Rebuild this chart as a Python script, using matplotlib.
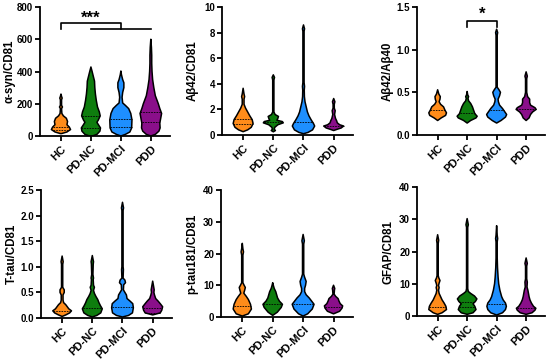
import numpy as np
import matplotlib
matplotlib.use("Agg")
import matplotlib.pyplot as plt

plt.rcParams['font.family'] = ['Liberation Sans', 'DejaVu Sans']

groups = ['HC', 'PD-NC', 'PD-MCI', 'PDD']
colors = ['#FF8C1A', '#0E7D0E', '#1E8FFF', '#8A0F8A']

# ---- violin profiles: levels (y values) and half-widths (category units) ----
asyn_levels = {
    'HC': [15, 25, 40, 55, 70, 90, 110, 125, 140, 170, 180, 190, 225, 235, 245, 260],
    'PD-NC': [0, 10, 30, 50, 70, 85, 100, 125, 150, 180, 220, 260, 300, 340, 370, 400, 428],
    'PD-MCI': [0, 10, 25, 50, 100, 140, 170, 190, 205, 240, 270, 300, 330, 350, 380, 403],
    'PDD': [0, 10, 30, 50, 80, 110, 140, 170, 200, 250, 300, 350, 400, 450, 500, 550, 600],
}
asyn_widths = {
    'HC': [0.02, 0.2, 0.32, 0.28, 0.2, 0.22, 0.18, 0.08, 0.03, 0.02, 0.05, 0.02, 0.02, 0.04, 0.02, 0.0],
    'PD-NC': [0.05, 0.2, 0.3, 0.32, 0.25, 0.2, 0.25, 0.31, 0.28, 0.22, 0.18, 0.15, 0.13, 0.12, 0.08, 0.04, 0.0],
    'PD-MCI': [0.0, 0.15, 0.3, 0.36, 0.37, 0.33, 0.26, 0.15, 0.06, 0.04, 0.06, 0.1, 0.1, 0.06, 0.02, 0.0],
    'PDD': [0.0, 0.15, 0.27, 0.31, 0.3, 0.33, 0.36, 0.3, 0.25, 0.15, 0.1, 0.06, 0.04, 0.03, 0.03, 0.02, 0.0],
}
asyn_lines = {'HC': [35, 55], 'PD-NC': [47, 124], 'PD-MCI': [58, 105], 'PDD': [89, 147]}

ab42_levels = {
    'HC': [0.26, 0.4, 0.6, 0.9, 1.2, 1.5, 1.8, 2.1, 2.4, 2.8, 3.0, 3.2, 3.65],
    'PD-NC': [0.25, 0.35, 0.45, 0.6, 0.8, 0.95, 1.05, 1.15, 1.3, 1.45, 1.6, 1.8, 4.3, 4.5, 4.7],
    'PD-MCI': [0.1, 0.2, 0.4, 0.7, 0.9, 1.2, 1.5, 1.8, 2.2, 2.6, 3.0, 3.5, 3.8, 4.1, 8.1, 8.3, 8.6],
    'PDD': [0.35, 0.45, 0.55, 0.7, 0.8, 0.95, 1.1, 1.3, 1.6, 1.9, 2.1, 2.4, 2.6, 2.85],
}
ab42_widths = {
    'HC': [0.0, 0.15, 0.27, 0.33, 0.3, 0.22, 0.15, 0.08, 0.03, 0.03, 0.05, 0.03, 0.0],
    'PD-NC': [0.0, 0.07, 0.03, 0.05, 0.15, 0.33, 0.3, 0.12, 0.15, 0.17, 0.06, 0.02, 0.02, 0.04, 0.0],
    'PD-MCI': [0.0, 0.15, 0.3, 0.37, 0.33, 0.25, 0.18, 0.13, 0.09, 0.05, 0.03, 0.025, 0.035, 0.02, 0.02, 0.035, 0.0],
    'PDD': [0.0, 0.12, 0.25, 0.33, 0.2, 0.12, 0.1, 0.06, 0.03, 0.05, 0.02, 0.02, 0.04, 0.0],
}
ab42_lines = {'HC': [0.85, 1.25], 'PD-NC': [1.05], 'PD-MCI': [1.0], 'PDD': [0.7]}

ratio_levels = {
    'HC': [0.17, 0.2, 0.23, 0.26, 0.29, 0.33, 0.36, 0.39, 0.42, 0.45, 0.48, 0.53],
    'PD-NC': [0.14, 0.17, 0.2, 0.22, 0.25, 0.29, 0.33, 0.37, 0.4, 0.43, 0.45, 0.47, 0.51],
    'PD-MCI': [0.14, 0.17, 0.21, 0.24, 0.27, 0.31, 0.35, 0.39, 0.42, 0.46, 0.5, 0.53, 0.56, 1.17, 1.2, 1.24],
    'PDD': [0.17, 0.2, 0.24, 0.27, 0.3, 0.32, 0.35, 0.38, 0.42, 0.45, 0.5, 0.66, 0.69, 0.74],
}
ratio_widths = {
    'HC': [0.0, 0.12, 0.27, 0.3, 0.25, 0.2, 0.1, 0.05, 0.08, 0.09, 0.04, 0.0],
    'PD-NC': [0.0, 0.12, 0.3, 0.34, 0.26, 0.22, 0.18, 0.12, 0.05, 0.03, 0.05, 0.02, 0.0],
    'PD-MCI': [0.0, 0.15, 0.3, 0.34, 0.28, 0.2, 0.1, 0.06, 0.05, 0.1, 0.13, 0.08, 0.02, 0.02, 0.035, 0.0],
    'PDD': [0.0, 0.1, 0.15, 0.22, 0.34, 0.3, 0.15, 0.12, 0.12, 0.05, 0.02, 0.02, 0.04, 0.0],
}
ratio_lines = {'HC': [0.29], 'PD-NC': [0.26], 'PD-MCI': [0.29], 'PDD': [0.3]}

ttau_levels = {
    'HC': [0.03, 0.06, 0.1, 0.14, 0.18, 0.22, 0.26, 0.3, 0.35, 0.45, 0.5, 0.55, 0.6, 1.05, 1.1, 1.21],
    'PD-NC': [0.02, 0.05, 0.1, 0.18, 0.24, 0.3, 0.36, 0.42, 0.48, 0.54, 0.6, 0.64, 0.75, 0.78, 0.85, 1.05, 1.1, 1.22],
    'PD-MCI': [0.02, 0.05, 0.1, 0.2, 0.28, 0.33, 0.38, 0.45, 0.5, 0.55, 0.65, 0.69, 0.74, 0.78, 0.95, 1.0, 2.1, 2.15, 2.26],
    'PDD': [0.06, 0.1, 0.15, 0.22, 0.28, 0.33, 0.38, 0.45, 0.5, 0.55, 0.62, 0.72],
}
ttau_widths = {
    'HC': [0.0, 0.12, 0.25, 0.31, 0.22, 0.17, 0.12, 0.05, 0.03, 0.03, 0.07, 0.07, 0.02, 0.02, 0.035, 0.0],
    'PD-NC': [0.0, 0.15, 0.28, 0.33, 0.27, 0.22, 0.18, 0.12, 0.07, 0.04, 0.07, 0.04, 0.03, 0.04, 0.02, 0.03, 0.04, 0.0],
    'PD-MCI': [0.0, 0.2, 0.33, 0.36, 0.34, 0.25, 0.15, 0.13, 0.08, 0.03, 0.04, 0.1, 0.08, 0.02, 0.03, 0.02, 0.02, 0.035, 0.0],
    'PDD': [0.0, 0.25, 0.3, 0.33, 0.25, 0.18, 0.1, 0.06, 0.04, 0.05, 0.03, 0.0],
}
ttau_lines = {'HC': [0.14], 'PD-NC': [0.19], 'PD-MCI': [0.22], 'PDD': [0.1, 0.2]}

ptau_levels = {
    'HC': [0.3, 1, 2.5, 4, 5.5, 6.5, 7.5, 8.5, 9.3, 10, 10.8, 19.5, 20.5, 21.5, 23.2],
    'PD-NC': [0.5, 1.5, 3, 4, 5, 6, 7, 8, 9, 10, 10.8],
    'PD-MCI': [0.3, 1, 2.5, 4, 5, 6, 7, 8, 9, 10, 11.2, 12.5, 13.5, 23, 24, 26],
    'PDD': [1.0, 1.8, 2.8, 3.5, 4.2, 5, 5.8, 6.5, 7.2, 8.5, 9, 10],
}
ptau_widths = {
    'HC': [0.0, 0.2, 0.3, 0.27, 0.2, 0.13, 0.05, 0.08, 0.1, 0.06, 0.02, 0.02, 0.04, 0.02, 0.0],
    'PD-NC': [0.0, 0.15, 0.28, 0.32, 0.22, 0.16, 0.13, 0.1, 0.05, 0.02, 0.0],
    'PD-MCI': [0.0, 0.15, 0.3, 0.36, 0.28, 0.2, 0.1, 0.05, 0.05, 0.08, 0.1, 0.05, 0.02, 0.02, 0.04, 0.0],
    'PDD': [0.0, 0.2, 0.28, 0.3, 0.22, 0.18, 0.15, 0.07, 0.02, 0.03, 0.04, 0.0],
}
ptau_lines = {'HC': [3.5], 'PD-NC': [4.0], 'PD-MCI': [4.2], 'PDD': [3.2]}

gfap_levels = {
    'HC': [0.5, 1, 2, 3, 4, 5, 6, 7, 8, 8.8, 9.5, 10.2, 11, 11.8, 12.5, 22.5, 23.5, 25.2],
    'PD-NC': [0.5, 1, 2, 3, 3.8, 4.5, 5.3, 6.2, 7, 7.6, 8.5, 27.5, 28.3, 30.2],
    'PD-MCI': [0.3, 1, 2, 3, 4, 5, 6, 8, 10, 12, 15, 18, 23, 24, 25, 28],
    'PDD': [0.5, 1, 1.8, 2.4, 3, 4, 5, 6, 7, 8, 9, 10.5, 11.5, 15.5, 16.3, 18],
}
gfap_widths = {
    'HC': [0.0, 0.15, 0.3, 0.28, 0.22, 0.15, 0.1, 0.05, 0.03, 0.05, 0.03, 0.05, 0.08, 0.04, 0.02, 0.02, 0.035, 0.0],
    'PD-NC': [0.0, 0.2, 0.3, 0.26, 0.2, 0.28, 0.33, 0.25, 0.12, 0.04, 0.02, 0.02, 0.04, 0.0],
    'PD-MCI': [0.0, 0.2, 0.3, 0.33, 0.3, 0.22, 0.17, 0.11, 0.07, 0.05, 0.03, 0.02, 0.02, 0.035, 0.02, 0.0],
    'PDD': [0.0, 0.2, 0.3, 0.33, 0.25, 0.18, 0.13, 0.1, 0.08, 0.06, 0.03, 0.04, 0.02, 0.02, 0.04, 0.0],
}
gfap_lines = {'HC': [2.8], 'PD-NC': [2.7, 4.4], 'PD-MCI': [3.8], 'PDD': [2.5]}

panels = [
    ('α-syn/CD81', asyn_levels, asyn_widths, asyn_lines, [0, 200, 400, 600, 800], ['0', '200', '400', '600', '800']),
    ('Aβ42/CD81', ab42_levels, ab42_widths, ab42_lines, [0, 2, 4, 6, 8, 10], ['0', '2', '4', '6', '8', '10']),
    ('Aβ42/Aβ40', ratio_levels, ratio_widths, ratio_lines, [0, 0.5, 1.0, 1.5], ['0.0', '0.5', '1.0', '1.5']),
    ('T-tau/CD81', ttau_levels, ttau_widths, ttau_lines, [0, 0.5, 1.0, 1.5, 2.0, 2.5], ['0.0', '0.5', '1.0', '1.5', '2.0', '2.5']),
    ('p-tau181/CD81', ptau_levels, ptau_widths, ptau_lines, [0, 10, 20, 30, 40], ['0', '10', '20', '30', '40']),
    ('GFAP/CD81', gfap_levels, gfap_widths, gfap_lines, [0, 10, 20, 30, 40], ['0', '10', '20', '30', '40']),
]

# axes rectangles in pixels: left, top, right, bottom
rects_px = [(40, 7, 170, 136), (222, 7, 353, 135), (417, 7, 545, 135),
            (41, 190, 172, 318), (221, 190, 353, 317), (417, 187, 545, 316)]
label_offsets_px = [24.5, 23, 23, 23, 23, 23]

W, H = 550, 360
fig = plt.figure(figsize=(W / 100, H / 100), dpi=100)

axes = []
for (label, levels, widths, lines, ticks, ticklabels), (l, t, r, b), off in zip(panels, rects_px, label_offsets_px):
    ax = fig.add_axes([l / W, (H - b) / H, (r - l) / W, (b - t) / H])
    axes.append(ax)
    for i, g in enumerate(groups):
        y = np.asarray(levels[g], float)
        w = np.asarray(widths[g], float)
        xs = np.concatenate([i - w, (i + w)[::-1]])
        ys = np.concatenate([y, y[::-1]])
        ax.fill(xs, ys, facecolor=colors[i], edgecolor='black', linewidth=1.1,
                joinstyle='round', zorder=2)
        for v in lines[g]:
            hw = np.interp(v, y, w)
            ax.plot([i - hw, i + hw], [v, v], color='black', lw=0.6, ls=(0, (2, 1.2)), zorder=3)
    ax.set_xlim(-0.7, 3.64)
    ax.set_ylim(0, ticks[-1])
    ax.set_yticks(ticks)
    ax.set_yticklabels(ticklabels)
    ax.set_xticks(range(4))
    ax.set_xticklabels(groups, rotation=45, ha='right', va='top', rotation_mode='anchor')
    ax.spines['top'].set_visible(False)
    ax.spines['right'].set_visible(False)
    for s in ('left', 'bottom'):
        ax.spines[s].set_linewidth(1.3)
    ax.tick_params(axis='both', length=3.5, width=1.3, pad=2)
    ax.tick_params(axis='x', labelsize=8)
    ax.tick_params(axis='y', labelsize=7, pad=1.5)
    for tl in ax.get_xticklabels() + ax.get_yticklabels():
        tl.set_fontweight('bold')
    ax.set_ylabel(label, fontsize=8.3, fontweight='bold')
    ax.yaxis.set_label_coords(-off / (r - l), 0.5)

# significance annotations
ax = axes[0]
ax.plot([0, 0, 2, 2], [661, 702, 702, 661], color='black', lw=1.2, clip_on=False, zorder=4)
ax.plot([1, 3], [661, 661], color='black', lw=1.2, clip_on=False, zorder=4)
ax.text(1, 728, '***', ha='center', va='center', fontsize=12, fontweight='bold')

ax = axes[2]
ax.plot([1, 1, 2, 2], [1.26, 1.34, 1.34, 1.26], color='black', lw=1.2, clip_on=False, zorder=4)
ax.text(1.5, 1.41, '*', ha='center', va='center', fontsize=12, fontweight='bold')

fig.savefig('out.png', dpi=100)
